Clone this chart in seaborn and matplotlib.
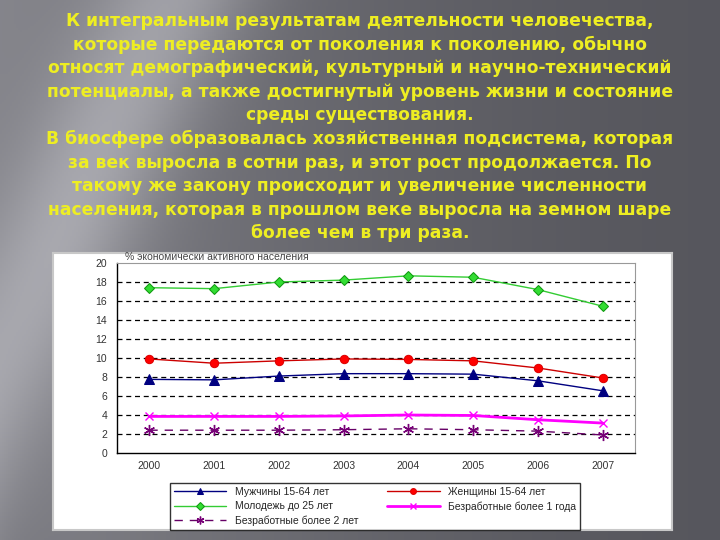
import matplotlib.pyplot as plt
import numpy as np
import seaborn as sns
import pandas as pd

sns.set_style("white")
plt.rcParams['font.family'] = ['Liberation Sans', 'DejaVu Sans']

# данные
years = ['2000', '2001', '2002', '2003', '2004', '2005', '2006', '2007']
men = [7.75, 7.7, 8.1, 8.35, 8.35, 8.3, 7.6, 6.55]
women = [9.9, 9.45, 9.7, 9.9, 9.85, 9.7, 8.95, 7.9]
youth = [17.4, 17.3, 18.0, 18.2, 18.65, 18.5, 17.2, 15.45]
unemp1 = [3.85, 3.85, 3.85, 3.9, 4.0, 3.95, 3.5, 3.15]
unemp2 = [2.4, 2.4, 2.4, 2.45, 2.55, 2.45, 2.3, 1.9]

names = ['Мужчины 15-64 лет', 'Женщины 15-64 лет', 'Молодежь до 25 лет',
         'Безработные более 1 года', 'Безработные более 2 лет']
y_ticks = list(range(0, 21, 2))
chart_title = '% экономически активного населения'

text_lines = [
    'К интегральным результатам деятельности человечества,',
    'которые передаются от поколения к поколению, обычно',
    'относят демографический, культурный и научно-технический',
    'потенциалы, а также достигнутый уровень жизни и состояние',
    'среды существования.',
    'В биосфере образовалась хозяйственная подсистема, которая',
    'за век выросла в сотни раз, и этот рост продолжается. По',
    'такому же закону происходит и увеличение численности',
    'населения, которая в прошлом веке выросла на земном шаре',
    'более чем в три раза.',
]

fig = plt.figure(figsize=(7.2, 5.4), dpi=100)

# фон слайда (серый градиент со светлой полосой слева)
bg = fig.add_axes([0, 0, 1, 1])
xx, yy = np.meshgrid(np.linspace(0, 1, 360), np.linspace(0, 1, 270))
base = 0.34 + 0.18 * (1 - xx) ** 1.6
band = 0.17 * np.exp(-((xx - 0.24 + 0.36 * yy) / 0.11) ** 2)
v = base + band - 0.05 * yy * np.exp(-(xx / 0.08) ** 2)
img = np.dstack([v, v, v + 0.025]).clip(0, 1)
bg.imshow(img, aspect='auto', extent=[0, 1, 0, 1], origin='upper')
bg.set_xlim(0, 1)
bg.set_ylim(0, 1)
bg.axis('off')

# текст
for i, line in enumerate(text_lines):
    fig.text(0.5, 1 - (21 + i * 23.6) / 540, line, ha='center', va='center',
             color='#eeee22', fontsize=12.3, fontweight='bold',
             family='DejaVu Sans')

# белая подложка диаграммы
box = fig.add_axes([53 / 720, 1 - 530 / 540, 619 / 720, 277 / 540])
box.set_facecolor('white')
box.set_xticks([])
box.set_yticks([])
for s in box.spines.values():
    s.set_color('#c8c8c8')
    s.set_linewidth(1.5)

ax = fig.add_axes([117 / 720, 1 - 453 / 540, 518 / 720, 190 / 540])
ax.set_facecolor('white')

df = pd.DataFrame({'year': years, 'men': men, 'women': women, 'youth': youth,
                   'unemp1': unemp1, 'unemp2': unemp2})

styles = [
    ('men', dict(color='#000080', marker='^', markersize=7, lw=1.0,
                 markeredgecolor='#000080')),
    ('women', dict(color='#cc0000', marker='o', markersize=6, lw=1.0,
                   markerfacecolor='red', markeredgecolor='#dd0000')),
    ('youth', dict(color='#33cc33', marker='D', markersize=5.5, lw=1.0,
                   markerfacecolor='#33dd33', markeredgecolor='#119911')),
    ('unemp1', dict(color='#ff00ff', marker='x', markersize=6, lw=2.0,
                    markeredgewidth=1.0, markeredgecolor='#ff00ff')),
    ('unemp2', dict(color='#660066', marker=(6, 2, 0), markersize=8, lw=1.0,
                    dashes=(6, 5), markeredgewidth=1.0,
                    markeredgecolor='#770077')),
]
for (col, kw), name in zip(styles, names):
    sns.lineplot(data=df, x='year', y=col, ax=ax, label=name, **kw)

ax.set_xlim(-0.5, 7.5)
ax.set_ylim(0, 20)
ax.set_yticks(y_ticks)
ax.set_yticklabels([str(t) for t in y_ticks], fontsize=7.5, color='#333333')
ax.set_xticks(range(len(years)))
ax.set_xticklabels(years, fontsize=7.5, color='#333333')
ax.set_xticks(np.arange(-0.5, 8, 1), minor=True)
ax.tick_params(axis='x', which='major', length=0, pad=6)
ax.tick_params(axis='x', which='minor', length=4, color='black', direction='out')
ax.tick_params(axis='y', length=3, color='black', direction='out', pad=4)
ax.set_xlabel('')
ax.set_ylabel('')
for t in y_ticks[1:-1]:
    ax.axhline(t, color='black', lw=0.9, ls=(0, (4, 3)), zorder=0)
for s in ['top', 'right']:
    ax.spines[s].set_color('#999999')
    ax.spines[s].set_linewidth(0.8)
for s in ['left', 'bottom']:
    ax.spines[s].set_color('black')
    ax.spines[s].set_linewidth(1.0)

fig.text(125 / 720, 1 - 257 / 540, chart_title, fontsize=7.5, color='#444444',
         ha='left', va='center')

handles, labels = ax.get_legend_handles_labels()
ax.get_legend().remove()
order = [0, 2, 4, 1, 3]
leg = fig.legend([handles[i] for i in order], [labels[i] for i in order],
                 loc='lower left', ncol=2, mode='expand',
                 bbox_to_anchor=(170 / 720, 1 - 530 / 540, 410 / 720, 52 / 540),
                 fontsize=7.5, handlelength=5, frameon=True, fancybox=False,
                 borderaxespad=0, labelspacing=0.4, columnspacing=1.0,
                 markerscale=0.7)
leg.get_frame().set_edgecolor('black')
leg.get_frame().set_linewidth(1.0)

fig.savefig('out.png', dpi=100)
